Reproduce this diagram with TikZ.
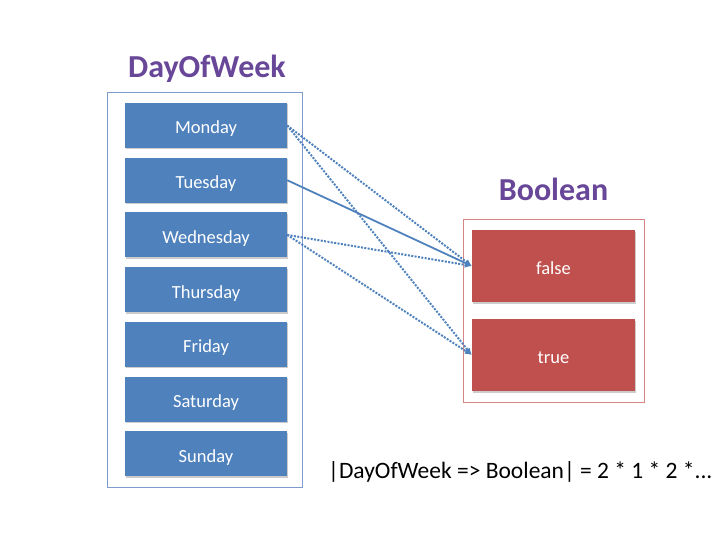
\documentclass[tikz,border=0pt]{standalone}
\usepackage{fontspec}
\setmainfont{Carlito}
\usepackage{tikz}
\usetikzlibrary{arrows.meta, shadows}
\definecolor{dayblue}{RGB}{79,129,189}
\definecolor{boolred}{RGB}{192,80,77}
\definecolor{titlepurple}{RGB}{104,70,152}
\definecolor{frameblue}{RGB}{125,155,205}
\definecolor{framered}{RGB}{214,135,133}
\tikzset{
  daybox/.style={fill=dayblue, text=white, minimum width=162pt, minimum height=45pt,
    text height=17pt, text depth=0pt, font=\fontsize{18.5}{20}\selectfont,
    drop shadow={shadow xshift=0.5pt, shadow yshift=-1.5pt, opacity=0.2, fill=black}},
  boolbox/.style={daybox, fill=boolred, minimum width=163pt, minimum height=72pt},
  maptitle/.style={anchor=base, text=titlepurple, font=\fontsize{32}{36}\selectfont\bfseries},
  maparrow/.style={dayblue, line width=1.8pt, -{Latex[length=7pt, width=6pt]}},
  mapdots/.style={maparrow, line width=2pt, dash pattern=on 2pt off 1.4pt},
}
\begin{document}
\begin{tikzpicture}[x=1pt, y=-1pt]
				\useasboundingbox (0,0) rectangle (720,540);
				\draw [frameblue, line width=1pt] (107,93) rectangle (302,487);
				\draw [framered, line width=1pt] (463,220) rectangle (644,402);
				\node[maptitle] (daytitle) at (207,78) {DayOfWeek};
				\node[maptitle] (booltitle) at (553.5,201) {Boolean};
				\foreach \d [count=\i from 0] in {Monday,Tuesday,Wednesday,Thursday,Friday,Saturday,Sunday}
					\node[daybox] (\d) at (206,{125.5+54.7*\i}) {\d};
				\node[boolbox] (false) at (553.5,266) {false};
				\node[boolbox] (true) at (553.5,355) {true};
				\draw[mapdots] (Monday.east) -- (false.west);
				\draw[mapdots] (Monday.east) -- (true.west);
				\draw[maparrow] (Tuesday.east) -- (false.west);
				\draw[mapdots] (Wednesday.east) -- (false.west);
				\draw[mapdots] (Wednesday.east) -- (true.west);
				\node[anchor=base west, inner sep=0pt, font=\fontsize{23.5}{28}\selectfont] (size) at (328,478) {|DayOfWeek => Boolean| = 2 * 1 * 2 *...};
			\end{tikzpicture}
\end{document}
